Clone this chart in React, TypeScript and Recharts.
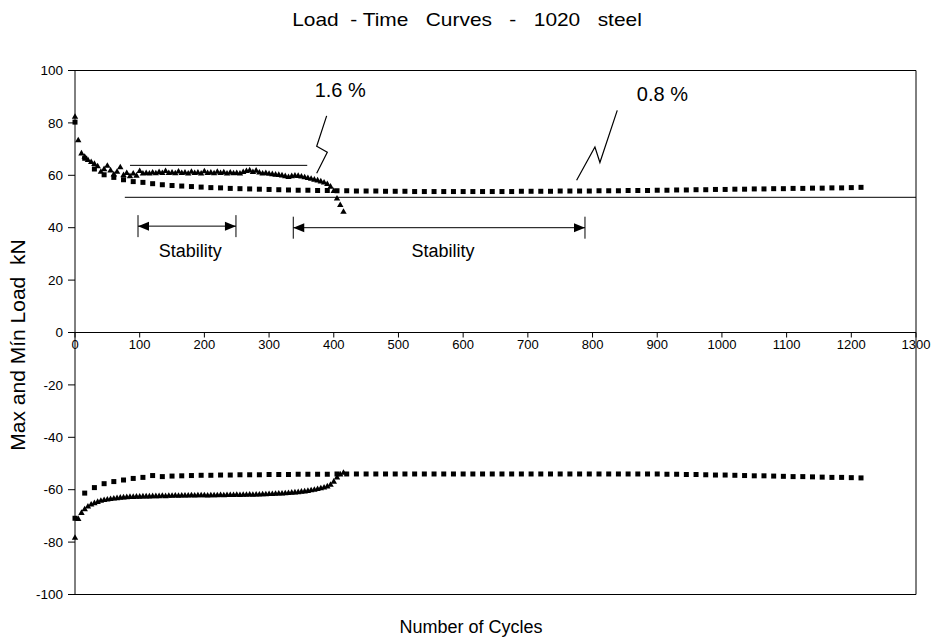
import React from 'react';
import {
  ScatterChart,
  Scatter,
  XAxis,
  YAxis,
  ReferenceLine,
  ReferenceDot,
} from 'recharts';

// cycle counts where each series was sampled
const triCycles = [
  0, 5, 10, 15, 20, 25, 30, 35, 40, 45, 50, 55, 60, 65, 70, 75, 80, 85, 90, 95,
  100, 105, 110, 115, 120, 125, 130, 135, 140, 145, 150, 155, 160, 165, 170, 175, 180, 185, 190, 195,
  200, 205, 210, 215, 220, 225, 230, 235, 240, 245, 250, 255, 260, 265, 270, 275, 280, 285, 290, 295,
  300, 305, 310, 315, 320, 325, 330, 335, 340, 345, 350, 355, 360, 365, 370, 375, 380, 385, 390, 395,
  400, 405, 410, 415,
];

// 1.6 % strain amplitude (triangles)
const triMax = [
  82.5, 73.5, 68.5, 67.2, 66, 65.2, 64.5, 63.6, 61.5, 62.5,
  63.8, 62, 60.5, 61.5, 63.2, 60.2, 61, 59.8, 60.8, 60,
  61.8, 60.8, 61, 60.8, 61.2, 60.9, 61.4, 61, 61.8, 61,
  61.2, 60.9, 61.6, 61, 61.2, 60.8, 61.5, 61, 61.2, 60.8,
  61.7, 61, 61.2, 60.9, 61.5, 61, 61.3, 60.8, 61.2, 60.9,
  61, 60.8, 61.4, 61.8, 62, 61.4, 61.9, 61.2, 60.8, 61,
  60.7, 60.6, 60.4, 60.3, 60.1, 59.8, 59.5, 59.8, 60, 59.9,
  59.7, 59.4, 59.1, 58.8, 58.5, 58.2, 57.8, 57.4, 56.8, 55.8,
  54.2, 51.3, 48.8, 46.2,
];
const triMin = [
  -78.2, -71, -68.7, -67.3, -66.3, -65.5, -65, -64.5, -64.1, -63.8,
  -63.6, -63.4, -63.2, -63.1, -62.9, -62.8, -62.7, -62.6, -62.6, -62.5,
  -62.5, -62.4, -62.4, -62.4, -62.3, -62.3, -62.3, -62.2, -62.3, -62.2,
  -62.2, -62.1, -62.2, -62.1, -62.1, -62.1, -62, -62.1, -62, -62,
  -62, -62.1, -62, -62, -62, -61.9, -62, -61.9, -61.9, -61.9,
  -61.8, -61.9, -61.8, -61.8, -61.7, -61.8, -61.7, -61.7, -61.6, -61.6,
  -61.5, -61.5, -61.4, -61.3, -61.3, -61.2, -61.1, -61, -60.9, -60.8,
  -60.6, -60.5, -60.3, -60.1, -59.9, -59.6, -59.3, -59, -58.6, -58,
  -56.8, -55.2, -54, -53.4,
];

const sqCycles = [
  0, 15, 30, 45, 60, 75, 90, 105, 120, 135,
  150, 165, 180, 195, 210, 225, 240, 255, 270, 285,
  300, 315, 330, 345, 360, 375, 390, 405, 420, 435,
  450, 465, 480, 495, 510, 525, 540, 555, 570, 585,
  600, 615, 630, 645, 660, 675, 690, 705, 720, 735,
  750, 765, 780, 795, 810, 825, 840, 855, 870, 885,
  900, 915, 930, 945, 960, 975, 990, 1005, 1020, 1035,
  1050, 1065, 1080, 1095, 1110, 1125, 1140, 1155, 1170, 1185,
  1200, 1215,
];

// 0.8 % strain amplitude (squares)
const sqMax = [
  80.3, 66.5, 62.4, 60.2, 59.2, 58.3, 57.6, 57.3, 56.8, 56.4,
  56.1, 55.9, 55.7, 55.5, 55.3, 55.2, 55, 54.9, 54.8, 54.7,
  54.6, 54.5, 54.4, 54.3, 54.3, 54.2, 54.2, 54.1, 54.1, 54,
  54, 54, 53.9, 53.9, 53.9, 53.8, 53.8, 53.8, 53.8, 53.8,
  53.8, 53.8, 53.8, 53.8, 53.8, 53.8, 53.9, 53.9, 53.9, 53.9,
  54, 54, 54, 54, 54.1, 54.1, 54.1, 54.2, 54.2, 54.2,
  54.3, 54.3, 54.4, 54.4, 54.5, 54.5, 54.6, 54.6, 54.7, 54.7,
  54.8, 54.8, 54.9, 54.9, 55, 55, 55.1, 55.1, 55.2, 55.2,
  55.3, 55.4,
];
const sqMin = [
  -70.9, -61.3, -59.2, -57.7, -56.9, -56.3, -55.7, -55.3, -54.6, -55,
  -54.8, -54.7, -54.6, -54.5, -54.5, -54.4, -54.4, -54.3, -54.3, -54.3,
  -54.2, -54.2, -54.2, -54.1, -54.1, -54.1, -54.1, -54, -54, -54,
  -54, -54, -54, -54, -54, -54, -54, -54, -54, -54,
  -54, -54, -54, -54, -54, -54, -54, -54, -54, -54,
  -54, -54, -54, -54, -54, -54, -54, -54, -54, -54,
  -54, -54.1, -54.1, -54.2, -54.2, -54.3, -54.4, -54.4, -54.5, -54.6,
  -54.7, -54.7, -54.8, -54.9, -55, -55, -55.1, -55.2, -55.3, -55.3,
  -55.4, -55.5,
];

const xTicks = [0, 100, 200, 300, 400, 500, 600, 700, 800, 900, 1000, 1100, 1200, 1300];
const yTicks = [-100, -80, -60, -40, -20, 0, 20, 40, 60, 80, 100];

// annotation geometry in data units (cycles, kN)
const bolt16 = [
  { x: 373.6, y: 60.8 },
  { x: 390, y: 68.8 },
  { x: 373.6, y: 71.1 },
  { x: 389, y: 82.7 },
];
const bolt08 = [
  { x: 775.4, y: 58.1 },
  { x: 803.7, y: 70.8 },
  { x: 811.4, y: 64.9 },
  { x: 838.2, y: 84.8 },
];
const stabilityRanges = [
  { from: 97.4, to: 248.8, y: 40.6, labelX: 178 },
  { from: 337.4, to: 788.3, y: 40, labelX: 569 },
];

const toPoints = (xs: number[], ys: number[]) => xs.map((x, i) => ({ x, y: ys[i] }));

const FONT = '"Liberation Sans", Arial, sans-serif';

const Square = (p: any) => <rect x={p.cx - 2.5} y={p.cy - 2.5} width={5} height={5} fill="#000" />;
const Triangle = (p: any) => (
  <path d={`M${p.cx},${p.cy - 3.2}L${p.cx + 3.2},${p.cy + 2.4}L${p.cx - 3.2},${p.cy + 2.4}Z`} fill="#000" />
);

const DoubleArrow = (p: any) => {
  const { x1, y1, x2 } = p;
  const head = 11;
  const half = 4.5;
  const bar = 11;
  return (
    <g>
      <line x1={x1} y1={y1} x2={x2} y2={y1} stroke="#000" strokeWidth={1} />
      <line x1={x1} y1={y1 - bar} x2={x1} y2={y1 + bar} stroke="#000" strokeWidth={1} />
      <line x1={x2} y1={y1 - bar} x2={x2} y2={y1 + bar} stroke="#000" strokeWidth={1} />
      <path d={`M${x1},${y1}L${x1 + head},${y1 - half}L${x1 + head},${y1 + half}Z`} fill="#000" />
      <path d={`M${x2},${y1}L${x2 - head},${y1 - half}L${x2 - head},${y1 + half}Z`} fill="#000" />
    </g>
  );
};

const XTick = (p: any) => (
  <line x1={p.cx} y1={p.cy} x2={p.cx} y2={p.cy + 5} stroke="#000" strokeWidth={1} />
);

export default function App() {
  return (
    <div style={{ position: 'absolute', left: 0, top: 0, width: 934, height: 642, fontFamily: FONT, background: '#fff' }}>
      <div
        style={{
          position: 'absolute', left: 0, top: 9, width: 934, textAlign: 'center',
          fontSize: 19, lineHeight: '22px', whiteSpace: 'pre', color: '#000',
          transform: 'scaleX(1.1)', transformOrigin: '467px 0',
        }}
      >
        {'Load  - Time   Curves   -   1020   steel'}
      </div>
      <div
        style={{
          position: 'absolute', left: 0, top: 615, width: 934, textAlign: 'center',
          fontSize: 18, lineHeight: '24px', color: '#000', paddingLeft: 4,
        }}
      >
        Number of Cycles
      </div>
      <div
        style={{
          position: 'absolute', left: 18, top: 345, width: 0, height: 0,
        }}
      >
        <div
          style={{
            position: 'absolute', left: 0, top: 0, transform: 'translate(-50%, -50%) rotate(-90deg)',
            fontSize: 21, lineHeight: '24px', whiteSpace: 'pre', color: '#000',
          }}
        >
          {'Max and Mín Load  kN'}
        </div>
      </div>

      <ScatterChart width={934} height={642} margin={{ top: 70.5, right: 18, bottom: 47.5, left: 0 }}>
        <XAxis dataKey="x" type="number" domain={[0, 1300]} ticks={xTicks} hide />
        <YAxis
          dataKey="y"
          type="number"
          domain={[-100, 100]}
          ticks={yTicks}
          width={75}
          interval={0}
          tickSize={7}
          tickMargin={5}
          axisLine={{ stroke: '#000' }}
          tickLine={{ stroke: '#000' }}
          tick={{ fill: '#000', fontSize: 13.5 }}
        />

        {/* plot frame */}
        <ReferenceLine y={100} stroke="#000" ifOverflow="extendDomain" />
        <ReferenceLine y={-100} stroke="#000" ifOverflow="extendDomain" />
        <ReferenceLine x={1300} stroke="#000" />

        {/* horizontal axis drawn at zero load */}
        <ReferenceLine y={0} stroke="#000" />
        {xTicks.map((t) => (
          <ReferenceDot
            key={`xt-${t}`}
            x={t}
            y={0}
            r={0}
            shape={XTick}
            label={{ value: String(t), position: 'bottom', offset: 7, fontSize: 13, fill: '#000' }}
          />
        ))}

        {/* stability guide lines */}
        <ReferenceLine segment={[{ x: 85, y: 63.8 }, { x: 359, y: 63.8 }]} stroke="#000" />
        <ReferenceLine segment={[{ x: 77, y: 51.6 }, { x: 1300, y: 51.6 }]} stroke="#000" />
        {stabilityRanges.map((r, i) => (
          <ReferenceLine
            key={`st-${i}`}
            segment={[{ x: r.from, y: r.y }, { x: r.to, y: r.y }]}
            shape={DoubleArrow}
          />
        ))}
        {stabilityRanges.map((r, i) => (
          <ReferenceDot
            key={`sl-${i}`}
            x={r.labelX}
            y={31.1}
            r={0}
            stroke="none"
            fill="none"
            label={{ value: 'Stability', position: 'center', fontSize: 18, fill: '#000' }}
          />
        ))}

        <Scatter
          data={bolt16}
          line={{ stroke: '#000', strokeWidth: 1.2 }}
          shape={() => <g />}
          isAnimationActive={false}
        />
        <Scatter
          data={bolt08}
          line={{ stroke: '#000', strokeWidth: 1.2 }}
          shape={() => <g />}
          isAnimationActive={false}
        />
        <ReferenceDot x={410} y={92.6} r={0} stroke="none" fill="none"
          label={{ value: '1.6 %', position: 'center', fontSize: 20, fill: '#000' }} />
        <ReferenceDot x={908} y={90.9} r={0} stroke="none" fill="none"
          label={{ value: '0.8 %', position: 'center', fontSize: 20, fill: '#000' }} />

        <Scatter data={toPoints(sqCycles, sqMax)} shape={Square} isAnimationActive={false} />
        <Scatter data={toPoints(sqCycles, sqMin)} shape={Square} isAnimationActive={false} />
        <Scatter data={toPoints(triCycles, triMax)} shape={Triangle} isAnimationActive={false} />
        <Scatter data={toPoints(triCycles, triMin)} shape={Triangle} isAnimationActive={false} />
      </ScatterChart>
    </div>
  );
}
